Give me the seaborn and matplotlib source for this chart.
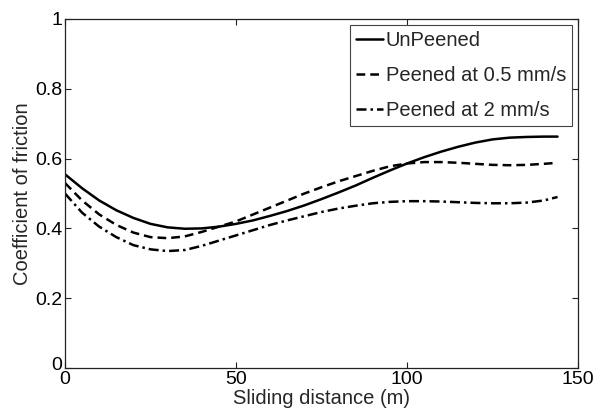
import numpy as np
import pandas as pd
import matplotlib
matplotlib.use('Agg')
import matplotlib.pyplot as plt
import matplotlib.transforms as mtransforms
import seaborn as sns

# sliding distance (m)
distance = [0, 5, 10, 15, 20, 25, 30, 35, 40, 45, 50, 55, 60, 65, 70, 75,
            80, 85, 90, 95, 100, 105, 110, 115, 120, 125, 130, 135, 140, 144]

unpeened = [0.555, 0.515, 0.480, 0.452, 0.430, 0.413, 0.403, 0.399, 0.400, 0.405,
            0.413, 0.423, 0.436, 0.450, 0.466, 0.484, 0.503, 0.523, 0.545, 0.566,
            0.586, 0.604, 0.620, 0.634, 0.646, 0.655, 0.660, 0.662, 0.663, 0.663]

peened_05 = [0.530, 0.480, 0.440, 0.410, 0.388, 0.375, 0.372, 0.377, 0.390, 0.405,
             0.420, 0.440, 0.460, 0.480, 0.500, 0.518, 0.535, 0.550, 0.565, 0.578,
             0.586, 0.590, 0.590, 0.588, 0.585, 0.582, 0.581, 0.582, 0.585, 0.588]

peened_2 = [0.500, 0.445, 0.405, 0.375, 0.352, 0.340, 0.335, 0.338, 0.350, 0.365,
            0.380, 0.395, 0.410, 0.423, 0.435, 0.447, 0.457, 0.465, 0.472, 0.476,
            0.478, 0.478, 0.477, 0.475, 0.473, 0.472, 0.472, 0.474, 0.480, 0.490]

series_labels = ["UnPeened", "Peened at 0.5 mm/s", "Peened at 2 mm/s"]
x_ticks = [0, 50, 100, 150]
y_ticks = [0, 0.2, 0.4, 0.6, 0.8, 1]
y_tick_labels = ["0", "0.2", "0.4", "0.6", "0.8", "1"]

sns.set_style("ticks")
plt.rcParams['font.family'] = ['Liberation Sans', 'DejaVu Sans']

fig = plt.figure(figsize=(5.98, 4.11), dpi=100)
ax = fig.add_axes([0.1087, 0.1046, 0.858, 0.8492])

styles = ['-', (0, (3.5, 2)), (0, (4, 1.6, 1, 1.6))]
for vals, lab, ls in zip([unpeened, peened_05, peened_2], series_labels, styles):
    df = pd.DataFrame({'d': distance, 'mu': vals})
    sns.lineplot(data=df, x='d', y='mu', ax=ax, color='black', linewidth=1.8,
                 linestyle=ls, label=lab)

ax.set_xlim(0, 150)
ax.set_ylim(0, 1)
ax.set_xticks(x_ticks)
ax.set_yticks(y_ticks)
ax.set_yticklabels(y_tick_labels)
ax.tick_params(direction='in', length=4, width=0.8, labelsize=14, pad=2,
               top=True, right=True, colors='#222222', labelcolor='black')
for s in ax.spines.values():
    s.set_linewidth(0.9)
    s.set_color('#222222')

# lift the y "0" a little, as in the original
lbl0 = ax.get_yticklabels()[0]
lbl0.set_transform(lbl0.get_transform() + mtransforms.ScaledTranslation(0, 3.5 / 72, fig.dpi_scale_trans))

ax.set_xlabel("Sliding distance (m)", fontsize=14.5, labelpad=1)
ax.set_ylabel("Coefficient of friction", fontsize=14.5, labelpad=2)

leg = ax.legend(loc='upper right', fontsize=14.5, handlelength=1.3, handletextpad=0.15,
                borderpad=0.3, labelspacing=0.8, borderaxespad=0.3,
                fancybox=False, framealpha=1, edgecolor='#444444')
leg.get_frame().set_linewidth(0.8)

fig.savefig("out.png", dpi=100)
